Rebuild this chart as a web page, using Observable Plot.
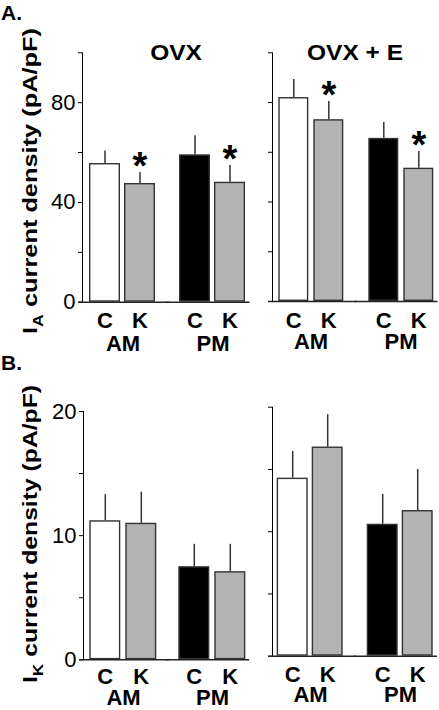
<!DOCTYPE html>
<html><head><meta charset="utf-8">
<script src="https://cdn.jsdelivr.net/npm/d3@7"></script>
<script src="https://cdn.jsdelivr.net/npm/@observablehq/plot@0.6"></script>
<style>
html,body{margin:0;padding:0;background:#fff;}
#fig{position:relative;width:439px;height:710px;overflow:hidden;font-family:"Liberation Sans",Arial,sans-serif;}
#fig .pw{position:absolute;}
#fig g[aria-label="x-axis tick label"], #fig g[aria-label="fx-axis tick label"]{font-weight:bold;}
#overlay{position:absolute;left:0;top:0;pointer-events:none;}
</style></head><body><div id="fig"></div>
<script>
// ---- data ----
const times = ["AM", "AM", "PM", "PM"];
const treatments = ["C", "K", "C", "K"];
const panelTitles = ["OVX", "OVX + E"];

// I_A current density (pA/pF)
const iaOvxMean = [55.6, 47.6, 59.1, 48.1];
const iaOvxErr  = [5.0, 4.4, 7.6, 6.7];
const iaOvxSig  = [false, true, false, true];
const iaOvxEMean = [82.0, 73.1, 65.6, 53.6];
const iaOvxEErr  = [7.3, 7.3, 6.4, 6.7];
const iaOvxESig  = [false, true, false, true];

// I_K current density (pA/pF)
const ikOvxMean = [11.2, 11.0, 7.5, 7.1];
const ikOvxErr  = [2.1, 2.5, 1.8, 2.2];
const ikOvxSig  = [false, false, false, false];
const ikOvxEMean = [14.3, 16.8, 10.6, 11.7];
const ikOvxEErr  = [2.15, 2.6, 2.4, 3.3];
const ikOvxESig  = [false, false, false, false];

const iaTicks = [0, 20, 40, 60, 80, 100];
const iaTickLabels = [0, 40, 80];
const ikTicks = [0, 5, 10, 15, 20];
const ikTickLabels = [0, 10, 20];

// ---- helpers ----
function rowsOf(mean, err, sig) {
  return mean.map((m, i) => ({
    time: times[i], t: treatments[i], mean: m, err: err[i], sig: sig[i],
    key: treatments[i] === "K" ? "K" : treatments[i] + "-" + times[i]
  }));
}

const fig = document.getElementById("fig");

function panel(cfg, rows, ticks, labels, showLabels) {
  const step = cfg.bw + cfg.g;
  const fw = 2 * cfg.o + 2 * cfg.bw + cfg.g;
  const fxStep = fw + cfg.G;
  const total = 2 * fw + cfg.G;
  const yMax = ticks[ticks.length - 1];
  const plot = Plot.plot({
    width: cfg.width, height: cfg.height,
    marginLeft: cfg.ml, marginRight: Math.max(0, cfg.width - cfg.ml - total),
    marginTop: cfg.mt, marginBottom: cfg.height - cfg.zero,
    style: {fontFamily: "'Liberation Sans', Arial, sans-serif", fontSize: "22px", color: "#000", background: "transparent", overflow: "visible"},
    fx: {domain: ["AM", "PM"], axis: "bottom", paddingInner: cfg.G / fxStep, paddingOuter: 0, tickSize: 0, tickPadding: cfg.fxPad, label: null},
    x: {domain: ["C", "K"], paddingInner: cfg.g / step, paddingOuter: cfg.o / step, tickSize: 0, tickPadding: cfg.xPad, label: null},
    y: {domain: [0, yMax], ticks: ticks, tickSize: 4, tickPadding: 3, line: true, label: null,
        tickFormat: d => (showLabels && labels.includes(d)) ? String(d) : ""},
    color: {domain: ["C-AM", "K", "C-PM"], range: ["#ffffff", "#b3b3b3", "#000000"]},
    marks: [
      Plot.barY(rows, {fx: "time", x: "t", y: "mean", fill: "key", stroke: "#333", strokeWidth: 1.4, inset: 0.7}),
      Plot.ruleX(rows, {fx: "time", x: "t", y1: "mean", y2: d => d.mean + d.err, stroke: "#333", strokeWidth: 1.5}),
      Plot.ruleY([{time: "AM", v: 0}], {fx: "time", y: "v", stroke: "#222", strokeWidth: 1.5, insetLeft: -4, insetRight: -(cfg.G / 2 + 1)}),
      Plot.ruleY([{time: "PM", v: 0}], {fx: "time", y: "v", stroke: "#222", strokeWidth: 1.5, insetLeft: -(cfg.G / 2 + 1), insetRight: cfg.o - 3.5}),
      Plot.text(rows.filter(d => d.sig), {fx: "time", x: "t", y: d => d.mean + d.err, text: () => "*",
        fontSize: 38, fontWeight: "bold", lineAnchor: "bottom", dy: 6})
    ]
  });
  const wrap = document.createElement("div");
  wrap.className = "pw";
  wrap.style.left = cfg.left + "px";
  wrap.style.top = cfg.top + "px";
  wrap.appendChild(plot);
  fig.appendChild(wrap);
}

panel({left: 0, top: 0, width: 260, height: 360, ml: 82, mt: 52.3, zero: 301.7,
       o: 7, bw: 31.5, g: 4, G: 9.5, xPad: 10.3, fxPad: 33},
      rowsOf(iaOvxMean, iaOvxErr, iaOvxSig), iaTicks, iaTickLabels, true);
panel({left: 190, top: 0, width: 249, height: 360, ml: 81.7, mt: 52.3, zero: 301,
       o: 5, bw: 31, g: 5, G: 13, xPad: 11, fxPad: 32},
      rowsOf(iaOvxEMean, iaOvxEErr, iaOvxESig), iaTicks, iaTickLabels, false);
panel({left: 0, top: 355, width: 260, height: 355, ml: 81.7, mt: 56, zero: 304.3,
       o: 6.3, bw: 31.5, g: 5, G: 9.4, xPad: 8.2, fxPad: 30},
      rowsOf(ikOvxMean, ikOvxErr, ikOvxSig), ikTicks, ikTickLabels, true);
panel({left: 190, top: 355, width: 249, height: 355, ml: 82.3, mt: 51.7, zero: 300.7,
       o: 4.5, bw: 31.5, g: 4.5, G: 13.7, xPad: 10.3, fxPad: 30.5},
      rowsOf(ikOvxEMean, ikOvxEErr, ikOvxESig), ikTicks, ikTickLabels, false);

// ---- overlay text: panel letters, titles, y-axis labels ----
const NS = "http://www.w3.org/2000/svg";
const ov = document.createElementNS(NS, "svg");
ov.setAttribute("id", "overlay");
ov.setAttribute("width", 439);
ov.setAttribute("height", 710);
ov.setAttribute("font-family", "'Liberation Sans', Arial, sans-serif");
ov.setAttribute("font-weight", "bold");
ov.innerHTML = `
  <text x="1" y="20" font-size="21">A.</text>
  <text x="1" y="370" font-size="21">B.</text>
  <text x="176" y="60" font-size="22" text-anchor="middle" textLength="51.7" lengthAdjust="spacingAndGlyphs">${panelTitles[0]}</text>
  <text x="355" y="60" font-size="22" text-anchor="middle" textLength="96" lengthAdjust="spacingAndGlyphs">${panelTitles[1]}</text>
  <text transform="translate(37,334) rotate(-90)" font-size="20" textLength="306" lengthAdjust="spacingAndGlyphs">I<tspan font-size="14" dy="6">A</tspan><tspan dy="-6"> current density (pA/pF)</tspan></text>
  <text transform="translate(36.7,683) rotate(-90)" font-size="20" textLength="298" lengthAdjust="spacingAndGlyphs">I<tspan font-size="14" dy="6">K</tspan><tspan dy="-6"> current density (pA/pF)</tspan></text>
`;
fig.appendChild(ov);
</script>
</body></html>
